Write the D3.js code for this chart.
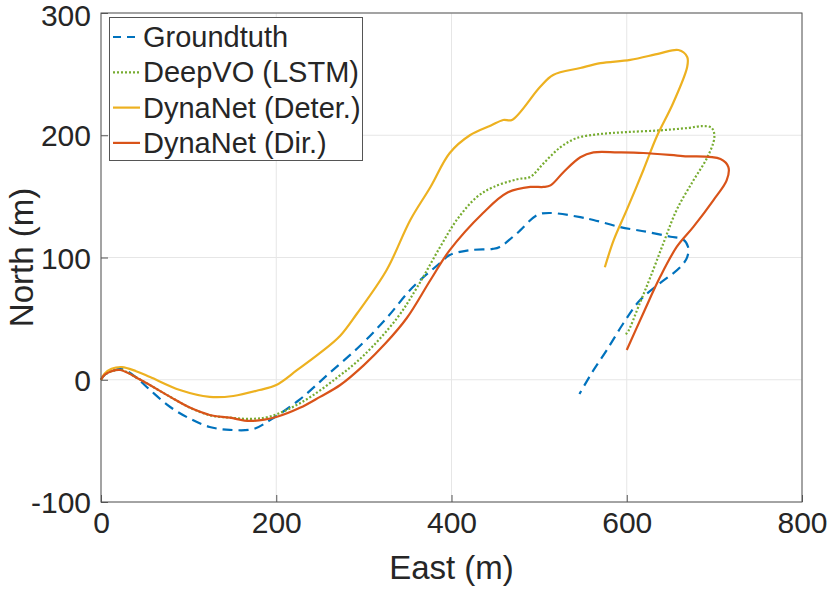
<!DOCTYPE html>
<html><head><meta charset="utf-8">
<script src="https://cdn.jsdelivr.net/npm/d3@7"></script>
<style>body{margin:0;background:#fff}svg{display:block}text{font-family:"Liberation Sans",Arial,Helvetica,sans-serif;fill:#262626}</style>
</head><body>
<svg id="c" width="830" height="590"></svg>
<script>
const xTicks = [0,200,400,600,800];
const yTicks = [-100,0,100,200,300];
const seriesNames = ["Groundtuth","DeepVO (LSTM)","DynaNet (Deter.)","DynaNet (Dir.)"];

const groundtruth = [[0,0],[4,4],[12,7],[24,8.8],[40,2],[56,-8.4],[79,-22.3],[102,-32],[124,-38.6],[147,-41],[174,-40.3],[193,-33],[227,-16],[260,5],[296,28],[326,50.5],[356,75.9],[387,95.5],[398,102],[421,106],[447,107],[455,108.6],[475,120],[498,134.8],[513,136.4],[547,133],[562,130.7],[592,125],[623,121],[650,117],[664,115],[670,108.6],[669,100.4],[661,92],[638,79],[615,65],[596,46],[577,24],[560,5.5],[546,-11.7]];
const deepvo = [[0,0],[4,4],[12,7],[23,8],[45,0],[79,-14],[102,-23],[124,-29],[147,-31],[170,-32],[193,-30],[230,-18],[270,2],[300,20],[338,50.5],[361,75.9],[387,108.6],[406,130.7],[429,149.5],[448,157.7],[475,164],[490,166],[505,177],[524,190],[543,197.7],[570,201],[600,202.6],[638,204],[670,206],[687,207.5],[697,206],[700,198.6],[692,182],[676,163],[657,139],[642,112],[627,84],[615,62.8],[600,38],[597,37]];
const deter = [[0,0],[4,5],[12,9],[24,10.4],[40,7],[56,2.2],[90,-8.4],[124,-14],[151,-13.3],[181,-8.4],[200,-4.3],[224,8],[250,21.9],[273,36],[292,54],[326,89.8],[353,130.7],[376,157.7],[398,185.5],[421,200],[445,208],[459,212.5],[469,212.5],[501,239.5],[516,249.3],[547,255],[570,259],[604,261.6],[638,267],[659,269.7],[669,264],[669,256],[653,226.4],[634,198.6],[619,171.6],[600,138.9],[585,114],[575,92]];
const dir = [[0,0],[4,4],[12,7],[22,8],[45,0],[79,-14],[102,-23],[124,-28.8],[147,-31],[170,-33.7],[200,-30.5],[227,-23],[250,-14],[273,-4.3],[300,12],[325,30],[349,50.5],[376,81.6],[398,106],[436,136.4],[463,152.8],[490,157.7],[505,157.7],[513,159],[528,170],[547,182],[562,186],[590,186],[619,185.5],[664,183],[707,180.6],[716,174],[714,163],[699,147],[676,125],[657,108.6],[638,84],[619,54.6],[600,24.3]];

const svg = d3.select("#c");
const L=101,R=802,T=13,B=502;
const x = d3.scaleLinear().domain([0,800]).range([L,R]);
const y = d3.scaleLinear().domain([-100,300]).range([B,T]);

// grid
const g = svg.append("g");
g.selectAll(".gx").data(xTicks).enter().append("line")
 .attr("x1",d=>x(d)).attr("x2",d=>x(d)).attr("y1",T).attr("y2",B)
 .attr("stroke","#e6e6e6").attr("stroke-width",1);
g.selectAll(".gy").data(yTicks).enter().append("line")
 .attr("y1",d=>y(d)).attr("y2",d=>y(d)).attr("x1",L).attr("x2",R)
 .attr("stroke","#e6e6e6").attr("stroke-width",1);

// axes
const ax = svg.append("g").attr("transform",`translate(0,${B})`)
 .call(d3.axisBottom(x).tickValues(xTicks).tickSize(-7).tickPadding(10));
const ay = svg.append("g").attr("transform",`translate(${L},0)`)
 .call(d3.axisLeft(y).tickValues(yTicks).tickSize(-7).tickPadding(10).tickFormat(d=>d<0?"-"+Math.abs(d):d));
[ax,ay].forEach(a=>{a.select(".domain").remove();a.selectAll("line").attr("stroke","#555");
 a.selectAll("text").style("font-size","30px").attr("fill","#262626");});
ax.selectAll("text").attr("dy","0.71em");
ay.selectAll("text").attr("dy","0.35em");
ay.selectAll(".tick").filter(d=>d===300).select("text").attr("dy","0.42em");

const line = d3.line().x(d=>x(d[0])).y(d=>y(d[1])).curve(d3.curveCatmullRom.alpha(0.5));
const plot = svg.append("g");
plot.append("path").datum(groundtruth).attr("d",line).attr("fill","none").attr("stroke","#0072BD").attr("stroke-width",2.2).attr("stroke-dasharray","10,6");
plot.append("path").datum(deepvo).attr("d",line).attr("fill","none").attr("stroke","#77AC30").attr("stroke-width",2.2).attr("stroke-dasharray","2,2");
plot.append("path").datum(deter).attr("d",line).attr("fill","none").attr("stroke","#EDB120").attr("stroke-width",2.2);
plot.append("path").datum(dir).attr("d",line).attr("fill","none").attr("stroke","#D95319").attr("stroke-width",2.2);

// box
svg.append("rect").attr("x",L).attr("y",T).attr("width",R-L).attr("height",B-T).attr("fill","none").attr("stroke","#555").attr("stroke-width",1);

// labels
svg.append("text").attr("x",(L+R)/2).attr("y",579).attr("text-anchor","middle").style("font-size","33px").text("East (m)");
svg.append("text").attr("transform",`translate(33,${(T+B)/2}) rotate(-90)`).attr("text-anchor","middle").style("font-size","33px").text("North (m)");

// legend
const lg = svg.append("g");
lg.append("rect").attr("x",109.5).attr("y",17.5).attr("width",253).attr("height",143).attr("fill","#fff").attr("stroke","#555").attr("stroke-width",1);
const styles = [["#0072BD","8,6"],["#77AC30","2,2"],["#EDB120",null],["#D95319",null]];
seriesNames.forEach((n,i)=>{
  const yy = 37 + i*35.3;
  const l = lg.append("line").attr("x1",113).attr("x2",140).attr("y1",yy).attr("y2",yy).attr("stroke",styles[i][0]).attr("stroke-width",2.2);
  if(styles[i][1]) l.attr("stroke-dasharray",styles[i][1]);
  lg.append("text").attr("x",143).attr("y",yy).attr("dy","0.35em").style("font-size","29px").attr("fill","#000").text(n);
});
</script>
</body></html>
